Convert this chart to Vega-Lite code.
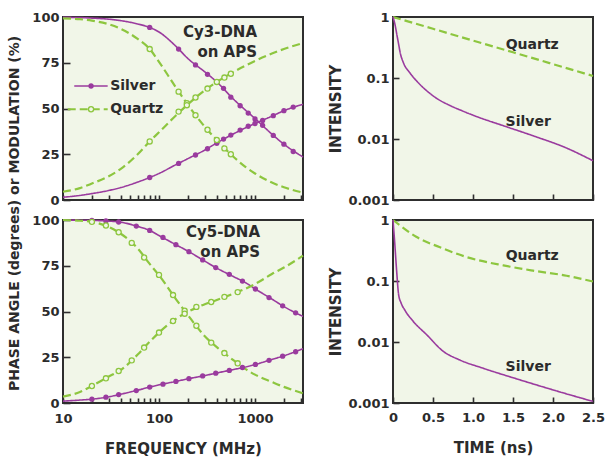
{
  "$schema": "https://vega.github.io/schema/vega-lite/v6.json",
  "background": "white",
  "padding": {"left": 7, "top": 10, "right": 0, "bottom": 0},
  "config": {
    "font": "DejaVu Sans",
    "view": {"fill": "#f1f6e8", "stroke": "#2e2e2e", "strokeWidth": 2},
    "axis": {"domain": false, "grid": false, "tickColor": "#2e2e2e", "tickWidth": 1.6, "labelFont": "DejaVu Sans", "labelFontWeight": "bold", "labelFontSize": 13, "labelColor": "#2b2b2b", "titleFont": "DejaVu Sans", "titleFontWeight": "bold", "titleFontSize": 15, "titleColor": "#2b2b2b", "labelFlush": false, "labelOverlap": false}
  },
  "datasets": {
    "fd": [
      {"panel":"Cy3","sample":"Silver","freq":10,"mod":99.8,"phase":1.5},
      {"panel":"Cy3","sample":"Silver","freq":15,"mod":99.7,"phase":2.5},
      {"panel":"Cy3","sample":"Silver","freq":20,"mod":99.4,"phase":3.5},
      {"panel":"Cy3","sample":"Silver","freq":30,"mod":98.8,"phase":5.2},
      {"panel":"Cy3","sample":"Silver","freq":40,"mod":98,"phase":6.8},
      {"panel":"Cy3","sample":"Silver","freq":60,"mod":96.2,"phase":9.8},
      {"panel":"Cy3","sample":"Silver","freq":80,"mod":94.3,"phase":12.3},
      {"panel":"Cy3","sample":"Silver","freq":100,"mod":91.8,"phase":14.5},
      {"panel":"Cy3","sample":"Silver","freq":150,"mod":84,"phase":19.3},
      {"panel":"Cy3","sample":"Silver","freq":200,"mod":77.3,"phase":22.6},
      {"panel":"Cy3","sample":"Silver","freq":300,"mod":70,"phase":27.3},
      {"panel":"Cy3","sample":"Silver","freq":400,"mod":64.5,"phase":31.2},
      {"panel":"Cy3","sample":"Silver","freq":600,"mod":55,"phase":36.2},
      {"panel":"Cy3","sample":"Silver","freq":800,"mod":49,"phase":39.5},
      {"panel":"Cy3","sample":"Silver","freq":1000,"mod":44.5,"phase":41.8},
      {"panel":"Cy3","sample":"Silver","freq":1500,"mod":36,"phase":45.8},
      {"panel":"Cy3","sample":"Silver","freq":2000,"mod":30.5,"phase":48.8},
      {"panel":"Cy3","sample":"Silver","freq":3162,"mod":23.5,"phase":52.3},
      {"panel":"Cy3","sample":"Quartz","freq":10,"mod":99.3,"phase":4.5},
      {"panel":"Cy3","sample":"Quartz","freq":15,"mod":98.8,"phase":6.5},
      {"panel":"Cy3","sample":"Quartz","freq":20,"mod":98,"phase":9},
      {"panel":"Cy3","sample":"Quartz","freq":30,"mod":96,"phase":13},
      {"panel":"Cy3","sample":"Quartz","freq":40,"mod":93.5,"phase":17},
      {"panel":"Cy3","sample":"Quartz","freq":60,"mod":88,"phase":25},
      {"panel":"Cy3","sample":"Quartz","freq":80,"mod":82.5,"phase":32},
      {"panel":"Cy3","sample":"Quartz","freq":100,"mod":75.5,"phase":37},
      {"panel":"Cy3","sample":"Quartz","freq":150,"mod":61.5,"phase":46.2},
      {"panel":"Cy3","sample":"Quartz","freq":200,"mod":52,"phase":52.3},
      {"panel":"Cy3","sample":"Quartz","freq":300,"mod":40,"phase":60},
      {"panel":"Cy3","sample":"Quartz","freq":400,"mod":32.8,"phase":64.5},
      {"panel":"Cy3","sample":"Quartz","freq":600,"mod":23.5,"phase":70},
      {"panel":"Cy3","sample":"Quartz","freq":800,"mod":18,"phase":73.5},
      {"panel":"Cy3","sample":"Quartz","freq":1000,"mod":14.5,"phase":76},
      {"panel":"Cy3","sample":"Quartz","freq":1500,"mod":9.5,"phase":80},
      {"panel":"Cy3","sample":"Quartz","freq":2000,"mod":7,"phase":82.5},
      {"panel":"Cy3","sample":"Quartz","freq":3162,"mod":4,"phase":85.7},
      {"panel":"Cy5","sample":"Silver","freq":10,"mod":100,"phase":1},
      {"panel":"Cy5","sample":"Silver","freq":15,"mod":99.9,"phase":1.6},
      {"panel":"Cy5","sample":"Silver","freq":20,"mod":99.8,"phase":2.1},
      {"panel":"Cy5","sample":"Silver","freq":30,"mod":99.4,"phase":3.4},
      {"panel":"Cy5","sample":"Silver","freq":40,"mod":98.8,"phase":4.8},
      {"panel":"Cy5","sample":"Silver","freq":60,"mod":96.5,"phase":7},
      {"panel":"Cy5","sample":"Silver","freq":80,"mod":94.3,"phase":8.7},
      {"panel":"Cy5","sample":"Silver","freq":100,"mod":91.5,"phase":9.9},
      {"panel":"Cy5","sample":"Silver","freq":150,"mod":86.5,"phase":11.8},
      {"panel":"Cy5","sample":"Silver","freq":200,"mod":83,"phase":13.2},
      {"panel":"Cy5","sample":"Silver","freq":300,"mod":77.5,"phase":15},
      {"panel":"Cy5","sample":"Silver","freq":400,"mod":73.7,"phase":16.4},
      {"panel":"Cy5","sample":"Silver","freq":600,"mod":69,"phase":18.3},
      {"panel":"Cy5","sample":"Silver","freq":800,"mod":65.7,"phase":19.7},
      {"panel":"Cy5","sample":"Silver","freq":1000,"mod":62.4,"phase":21},
      {"panel":"Cy5","sample":"Silver","freq":1500,"mod":56.8,"phase":23.8},
      {"panel":"Cy5","sample":"Silver","freq":2000,"mod":52.7,"phase":25.8},
      {"panel":"Cy5","sample":"Silver","freq":3162,"mod":47.3,"phase":29.7},
      {"panel":"Cy5","sample":"Quartz","freq":10,"mod":100,"phase":3.5},
      {"panel":"Cy5","sample":"Quartz","freq":15,"mod":99.6,"phase":6},
      {"panel":"Cy5","sample":"Quartz","freq":20,"mod":99,"phase":9.3},
      {"panel":"Cy5","sample":"Quartz","freq":30,"mod":96.2,"phase":14.5},
      {"panel":"Cy5","sample":"Quartz","freq":40,"mod":92.5,"phase":18},
      {"panel":"Cy5","sample":"Quartz","freq":60,"mod":84.5,"phase":26.5},
      {"panel":"Cy5","sample":"Quartz","freq":80,"mod":76,"phase":33.5},
      {"panel":"Cy5","sample":"Quartz","freq":100,"mod":69.8,"phase":38.5},
      {"panel":"Cy5","sample":"Quartz","freq":150,"mod":56.8,"phase":46},
      {"panel":"Cy5","sample":"Quartz","freq":200,"mod":48,"phase":49.8},
      {"panel":"Cy5","sample":"Quartz","freq":300,"mod":36.5,"phase":54},
      {"panel":"Cy5","sample":"Quartz","freq":400,"mod":30.5,"phase":56.3},
      {"panel":"Cy5","sample":"Quartz","freq":600,"mod":23.3,"phase":59.8},
      {"panel":"Cy5","sample":"Quartz","freq":800,"mod":18.5,"phase":62.5},
      {"panel":"Cy5","sample":"Quartz","freq":1000,"mod":15.5,"phase":65},
      {"panel":"Cy5","sample":"Quartz","freq":1500,"mod":11.5,"phase":70.5},
      {"panel":"Cy5","sample":"Quartz","freq":2000,"mod":8.8,"phase":74},
      {"panel":"Cy5","sample":"Quartz","freq":3162,"mod":5.3,"phase":80.5}
    ],
    "fdpts": [
      {"panel":"Cy3","sample":"Silver","freq":80,"mod":94.3,"phase":12.3},
      {"panel":"Cy3","sample":"Silver","freq":160,"mod":82.5,"phase":20},
      {"panel":"Cy3","sample":"Silver","freq":240,"mod":73.8,"phase":24.6},
      {"panel":"Cy3","sample":"Silver","freq":320,"mod":68.7,"phase":28},
      {"panel":"Cy3","sample":"Silver","freq":400,"mod":64.6,"phase":31},
      {"panel":"Cy3","sample":"Silver","freq":470,"mod":61,"phase":33.3},
      {"panel":"Cy3","sample":"Silver","freq":560,"mod":56.2,"phase":35.5},
      {"panel":"Cy3","sample":"Silver","freq":700,"mod":51.5,"phase":38.2},
      {"panel":"Cy3","sample":"Silver","freq":850,"mod":47.5,"phase":40.3},
      {"panel":"Cy3","sample":"Silver","freq":1000,"mod":44.3,"phase":41.8},
      {"panel":"Cy3","sample":"Silver","freq":1200,"mod":40.8,"phase":43.5},
      {"panel":"Cy3","sample":"Silver","freq":1550,"mod":35.3,"phase":46.1},
      {"panel":"Cy3","sample":"Silver","freq":2000,"mod":30.5,"phase":48.8},
      {"panel":"Cy3","sample":"Silver","freq":2500,"mod":26.5,"phase":50.8},
      {"panel":"Cy3","sample":"Quartz","freq":80,"mod":82.5,"phase":32},
      {"panel":"Cy3","sample":"Quartz","freq":160,"mod":59.2,"phase":48.3},
      {"panel":"Cy3","sample":"Quartz","freq":195,"mod":52.9,"phase":51.8},
      {"panel":"Cy3","sample":"Quartz","freq":240,"mod":46.3,"phase":56},
      {"panel":"Cy3","sample":"Quartz","freq":320,"mod":38.4,"phase":60.9},
      {"panel":"Cy3","sample":"Quartz","freq":400,"mod":32.8,"phase":64.5},
      {"panel":"Cy3","sample":"Quartz","freq":480,"mod":28.2,"phase":66.9},
      {"panel":"Cy3","sample":"Quartz","freq":560,"mod":25,"phase":69},
      {"panel":"Cy5","sample":"Silver","freq":20,"mod":99.8,"phase":2.1},
      {"panel":"Cy5","sample":"Silver","freq":28,"mod":99.5,"phase":3.2},
      {"panel":"Cy5","sample":"Silver","freq":38,"mod":98.9,"phase":4.6},
      {"panel":"Cy5","sample":"Silver","freq":58,"mod":96.7,"phase":6.8},
      {"panel":"Cy5","sample":"Silver","freq":80,"mod":94.3,"phase":8.7},
      {"panel":"Cy5","sample":"Silver","freq":110,"mod":90.5,"phase":10.3},
      {"panel":"Cy5","sample":"Silver","freq":150,"mod":86.5,"phase":11.8},
      {"panel":"Cy5","sample":"Silver","freq":205,"mod":82.7,"phase":13.3},
      {"panel":"Cy5","sample":"Silver","freq":285,"mod":78.2,"phase":14.8},
      {"panel":"Cy5","sample":"Silver","freq":390,"mod":74,"phase":16.3},
      {"panel":"Cy5","sample":"Silver","freq":540,"mod":70.3,"phase":17.8},
      {"panel":"Cy5","sample":"Silver","freq":740,"mod":66.6,"phase":19.4},
      {"panel":"Cy5","sample":"Silver","freq":1010,"mod":62.3,"phase":21.1},
      {"panel":"Cy5","sample":"Silver","freq":1400,"mod":57.6,"phase":23.3},
      {"panel":"Cy5","sample":"Silver","freq":1940,"mod":53.1,"phase":25.6},
      {"panel":"Cy5","sample":"Silver","freq":2650,"mod":49.3,"phase":28},
      {"panel":"Cy5","sample":"Quartz","freq":20,"mod":99,"phase":9.3},
      {"panel":"Cy5","sample":"Quartz","freq":28,"mod":97,"phase":13.5},
      {"panel":"Cy5","sample":"Quartz","freq":38,"mod":93.3,"phase":17.5},
      {"panel":"Cy5","sample":"Quartz","freq":52,"mod":87.5,"phase":23.3},
      {"panel":"Cy5","sample":"Quartz","freq":70,"mod":79.5,"phase":30.3},
      {"panel":"Cy5","sample":"Quartz","freq":100,"mod":70,"phase":38.5},
      {"panel":"Cy5","sample":"Quartz","freq":140,"mod":59,"phase":44.8},
      {"panel":"Cy5","sample":"Quartz","freq":185,"mod":50.4,"phase":48.8},
      {"panel":"Cy5","sample":"Quartz","freq":245,"mod":42.2,"phase":52.5},
      {"panel":"Cy5","sample":"Quartz","freq":350,"mod":33,"phase":55.2},
      {"panel":"Cy5","sample":"Quartz","freq":480,"mod":27.3,"phase":58},
      {"panel":"Cy5","sample":"Quartz","freq":660,"mod":21.7,"phase":60.6}
    ],
    "fdlabels": [
      {"panel":"Cy3","freq":1050,"value":91.8,"label":"Cy3-DNA"},
      {"panel":"Cy3","freq":1050,"value":80.9,"label":"on APS"},
      {"panel":"Cy5","freq":1127,"value":93.4,"label":"Cy5-DNA"},
      {"panel":"Cy5","freq":1127,"value":82.4,"label":"on APS"}
    ],
    "legline": [
      {"sample":"Silver","freq":13.1,"value":62.3},
      {"sample":"Silver","freq":29.2,"value":62.3},
      {"sample":"Quartz","freq":11.2,"value":49.6},
      {"sample":"Quartz","freq":29.2,"value":49.6}
    ],
    "legpts": [
      {"sample":"Silver","freq":19.6,"value":62.3},
      {"sample":"Quartz","freq":19.6,"value":49.6}
    ],
    "legtext": [
      {"freq":31,"value":62.3,"label":"Silver"},
      {"freq":31,"value":49.6,"label":"Quartz"}
    ],
    "td": [
      {"panel":"Cy3","sample":"Quartz","t":0,"I":1},
      {"panel":"Cy3","sample":"Quartz","t":0.5,"I":0.641},
      {"panel":"Cy3","sample":"Quartz","t":1,"I":0.411},
      {"panel":"Cy3","sample":"Quartz","t":1.5,"I":0.264},
      {"panel":"Cy3","sample":"Quartz","t":2,"I":0.169},
      {"panel":"Cy3","sample":"Quartz","t":2.5,"I":0.108},
      {"panel":"Cy3","sample":"Silver","t":0,"I":1},
      {"panel":"Cy3","sample":"Silver","t":0.025,"I":0.75},
      {"panel":"Cy3","sample":"Silver","t":0.05,"I":0.5},
      {"panel":"Cy3","sample":"Silver","t":0.07,"I":0.36},
      {"panel":"Cy3","sample":"Silver","t":0.09,"I":0.26},
      {"panel":"Cy3","sample":"Silver","t":0.13,"I":0.178},
      {"panel":"Cy3","sample":"Silver","t":0.21,"I":0.122},
      {"panel":"Cy3","sample":"Silver","t":0.3,"I":0.088},
      {"panel":"Cy3","sample":"Silver","t":0.42,"I":0.062},
      {"panel":"Cy3","sample":"Silver","t":0.55,"I":0.046},
      {"panel":"Cy3","sample":"Silver","t":0.71,"I":0.0355},
      {"panel":"Cy3","sample":"Silver","t":0.85,"I":0.0295},
      {"panel":"Cy3","sample":"Silver","t":1.05,"I":0.0232},
      {"panel":"Cy3","sample":"Silver","t":1.38,"I":0.0165},
      {"panel":"Cy3","sample":"Silver","t":1.75,"I":0.0113},
      {"panel":"Cy3","sample":"Silver","t":2.17,"I":0.0071},
      {"panel":"Cy3","sample":"Silver","t":2.5,"I":0.0044},
      {"panel":"Cy5","sample":"Quartz","t":0,"I":1},
      {"panel":"Cy5","sample":"Quartz","t":0.08,"I":0.83},
      {"panel":"Cy5","sample":"Quartz","t":0.29,"I":0.53},
      {"panel":"Cy5","sample":"Quartz","t":0.58,"I":0.36},
      {"panel":"Cy5","sample":"Quartz","t":0.92,"I":0.247},
      {"panel":"Cy5","sample":"Quartz","t":1.38,"I":0.18},
      {"panel":"Cy5","sample":"Quartz","t":1.75,"I":0.148},
      {"panel":"Cy5","sample":"Quartz","t":2.17,"I":0.122},
      {"panel":"Cy5","sample":"Quartz","t":2.5,"I":0.098},
      {"panel":"Cy5","sample":"Silver","t":0,"I":1},
      {"panel":"Cy5","sample":"Silver","t":0.02,"I":0.45},
      {"panel":"Cy5","sample":"Silver","t":0.045,"I":0.15},
      {"panel":"Cy5","sample":"Silver","t":0.07,"I":0.06},
      {"panel":"Cy5","sample":"Silver","t":0.1,"I":0.044},
      {"panel":"Cy5","sample":"Silver","t":0.15,"I":0.033},
      {"panel":"Cy5","sample":"Silver","t":0.25,"I":0.022},
      {"panel":"Cy5","sample":"Silver","t":0.42,"I":0.0132},
      {"panel":"Cy5","sample":"Silver","t":0.63,"I":0.007},
      {"panel":"Cy5","sample":"Silver","t":0.83,"I":0.0051},
      {"panel":"Cy5","sample":"Silver","t":1.13,"I":0.0037},
      {"panel":"Cy5","sample":"Silver","t":1.54,"I":0.0025},
      {"panel":"Cy5","sample":"Silver","t":1.96,"I":0.0017},
      {"panel":"Cy5","sample":"Silver","t":2.5,"I":0.00106}
    ],
    "tdlabels": [
      {"panel":"Cy3","t":1.74,"I":0.35,"label":"Quartz"},
      {"panel":"Cy3","t":1.69,"I":0.0191,"label":"Silver"},
      {"panel":"Cy5","t":1.74,"I":0.255,"label":"Quartz"},
      {"panel":"Cy5","t":1.69,"I":0.0039,"label":"Silver"}
    ]
  },
  "spacing": 18,
  "hconcat": [
    {
      "title": {"text": "PHASE  ANGLE (degrees) or  MODULATION (%)", "orient": "left", "anchor": "middle", "font": "DejaVu Sans", "fontSize": 14, "fontWeight": "bold", "color": "#2b2b2b", "offset": 9, "dx": 20},
      "bounds": "flush",
      "spacing": 20,
      "vconcat": [
        {
          "width": 240, "height": 183,
          "layer": [
            {
              "data": {"name": "fd"},
              "transform": [{"filter": "datum.panel === 'Cy3'"}, {"fold": ["mod", "phase"], "as": ["kind", "value"]}],
              "mark": {"type": "line", "interpolate": "monotone"},
              "encoding": {
                "x": {"field": "freq", "type": "quantitative", "scale": {"type": "log", "domain": [10, 3162], "nice": false}, "axis": {"values": [10,20,30,40,50,60,70,80,90,100,200,300,400,500,600,700,800,900,1000,2000,3000], "tickCount": 100, "labels": false, "tickSize": -5, "title": null}},
                "y": {"field": "value", "type": "quantitative", "scale": {"domain": [0, 100], "nice": false}, "axis": {"values": [0, 25, 50, 75, 100], "tickCount": 100, "tickSize": -7, "labelPadding": 11, "labelOverlap": false, "title": null}},
                "color": {"field": "sample", "type": "nominal", "scale": {"domain": ["Silver", "Quartz"], "range": ["#9a3b9e", "#8dc63f"]}, "legend": null},
                "strokeDash": {"field": "sample", "type": "nominal", "scale": {"domain": ["Silver", "Quartz"], "range": [[1, 0], [8, 4]]}, "legend": null},
                "strokeWidth": {"field": "sample", "type": "nominal", "scale": {"domain": ["Silver", "Quartz"], "range": [1.6, 2.2]}, "legend": null},
                "detail": {"field": "kind"}
              }
            },
            {
              "data": {"name": "legline"},
              "mark": {"type": "line"},
              "encoding": {
                "x": {"field": "freq", "type": "quantitative"},
                "y": {"field": "value", "type": "quantitative"},
                "color": {"field": "sample", "type": "nominal", "legend": null},
                "strokeDash": {"field": "sample", "type": "nominal", "legend": null},
                "strokeWidth": {"field": "sample", "type": "nominal", "legend": null}
              }
            },
            {
              "data": {"name": "fdpts"},
              "transform": [{"filter": "datum.panel === 'Cy3' && datum.sample === 'Silver'"}, {"fold": ["mod", "phase"], "as": ["kind", "value"]}],
              "mark": {"type": "circle", "size": 28, "color": "#9a3b9e", "opacity": 1},
              "encoding": {"x": {"field": "freq", "type": "quantitative"}, "y": {"field": "value", "type": "quantitative"}}
            },
            {
              "data": {"name": "fdpts"},
              "transform": [{"filter": "datum.panel === 'Cy3' && datum.sample === 'Quartz'"}, {"fold": ["mod", "phase"], "as": ["kind", "value"]}],
              "mark": {"type": "point", "shape": "circle", "size": 26, "filled": false, "fill": "#f1f6e8", "fillOpacity": 1, "stroke": "#8dc63f", "strokeWidth": 1.3, "opacity": 1},
              "encoding": {"x": {"field": "freq", "type": "quantitative"}, "y": {"field": "value", "type": "quantitative"}}
            },
            {
              "data": {"name": "legpts"},
              "transform": [{"filter": "datum.sample === 'Silver'"}],
              "mark": {"type": "circle", "size": 28, "color": "#9a3b9e", "opacity": 1},
              "encoding": {"x": {"field": "freq", "type": "quantitative"}, "y": {"field": "value", "type": "quantitative"}}
            },
            {
              "data": {"name": "legpts"},
              "transform": [{"filter": "datum.sample === 'Quartz'"}],
              "mark": {"type": "point", "shape": "circle", "size": 26, "filled": false, "fill": "#f1f6e8", "fillOpacity": 1, "stroke": "#8dc63f", "strokeWidth": 1.3, "opacity": 1},
              "encoding": {"x": {"field": "freq", "type": "quantitative"}, "y": {"field": "value", "type": "quantitative"}}
            },
            {
              "data": {"name": "legtext"},
              "mark": {"type": "text", "align": "left", "baseline": "middle", "font": "DejaVu Sans", "fontWeight": "bold", "fontSize": 14, "color": "#2b2b2b"},
              "encoding": {"x": {"field": "freq", "type": "quantitative"}, "y": {"field": "value", "type": "quantitative"}, "text": {"field": "label"}}
            },
            {
              "data": {"name": "fdlabels"},
              "transform": [{"filter": "datum.panel === 'Cy3'"}],
              "mark": {"type": "text", "align": "right", "baseline": "middle", "font": "DejaVu Sans", "fontWeight": "bold", "fontSize": 15, "color": "#2b2b2b"},
              "encoding": {"x": {"field": "freq", "type": "quantitative"}, "y": {"field": "value", "type": "quantitative"}, "text": {"field": "label"}}
            }
          ]
        },
        {
          "width": 240, "height": 183,
          "layer": [
            {
              "data": {"name": "fd"},
              "transform": [{"filter": "datum.panel === 'Cy5'"}, {"fold": ["mod", "phase"], "as": ["kind", "value"]}],
              "mark": {"type": "line", "interpolate": "monotone"},
              "encoding": {
                "x": {"field": "freq", "type": "quantitative", "scale": {"type": "log", "domain": [10, 3162], "nice": false}, "axis": {"values": [10,20,30,40,50,60,70,80,90,100,200,300,400,500,600,700,800,900,1000,2000,3000], "tickCount": 100, "labelExpr": "indexof([10, 100, 1000], datum.value) >= 0 ? format(datum.value, 'd') : ''", "labelOverlap": false, "tickSize": -5, "labelPadding": 14, "title": "FREQUENCY (MHz)", "titlePadding": 16}},
                "y": {"field": "value", "type": "quantitative", "scale": {"domain": [0, 100], "nice": false}, "axis": {"values": [0, 25, 50, 75, 100], "tickCount": 100, "tickSize": -7, "labelPadding": 11, "labelOverlap": false, "title": null}},
                "color": {"field": "sample", "type": "nominal", "scale": {"domain": ["Silver", "Quartz"], "range": ["#9a3b9e", "#8dc63f"]}, "legend": null},
                "strokeDash": {"field": "sample", "type": "nominal", "scale": {"domain": ["Silver", "Quartz"], "range": [[1, 0], [8, 4]]}, "legend": null},
                "strokeWidth": {"field": "sample", "type": "nominal", "scale": {"domain": ["Silver", "Quartz"], "range": [1.6, 2.2]}, "legend": null},
                "detail": {"field": "kind"}
              }
            },
            {
              "data": {"name": "fdpts"},
              "transform": [{"filter": "datum.panel === 'Cy5' && datum.sample === 'Silver'"}, {"fold": ["mod", "phase"], "as": ["kind", "value"]}],
              "mark": {"type": "circle", "size": 28, "color": "#9a3b9e", "opacity": 1},
              "encoding": {"x": {"field": "freq", "type": "quantitative"}, "y": {"field": "value", "type": "quantitative"}}
            },
            {
              "data": {"name": "fdpts"},
              "transform": [{"filter": "datum.panel === 'Cy5' && datum.sample === 'Quartz'"}, {"fold": ["mod", "phase"], "as": ["kind", "value"]}],
              "mark": {"type": "point", "shape": "circle", "size": 26, "filled": false, "fill": "#f1f6e8", "fillOpacity": 1, "stroke": "#8dc63f", "strokeWidth": 1.3, "opacity": 1},
              "encoding": {"x": {"field": "freq", "type": "quantitative"}, "y": {"field": "value", "type": "quantitative"}}
            },
            {
              "data": {"name": "fdlabels"},
              "transform": [{"filter": "datum.panel === 'Cy5'"}],
              "mark": {"type": "text", "align": "right", "baseline": "middle", "font": "DejaVu Sans", "fontWeight": "bold", "fontSize": 15, "color": "#2b2b2b"},
              "encoding": {"x": {"field": "freq", "type": "quantitative"}, "y": {"field": "value", "type": "quantitative"}, "text": {"field": "label"}}
            }
          ]
        }
      ]
    },
    {
      "bounds": "flush",
      "spacing": 20,
      "vconcat": [
        {
          "width": 200, "height": 183,
          "layer": [
            {
              "data": {"name": "td"},
              "transform": [{"filter": "datum.panel === 'Cy3'"}],
              "mark": {"type": "line", "interpolate": "monotone"},
              "encoding": {
                "x": {"field": "t", "type": "quantitative", "scale": {"domain": [0, 2.5], "nice": false}, "axis": {"values": [0, 0.5, 1, 1.5, 2, 2.5], "tickCount": 100, "labels": false, "tickSize": -6, "title": null}},
                "y": {"field": "I", "type": "quantitative", "scale": {"type": "log", "domain": [0.001, 1], "nice": false}, "axis": {"values": [0.001, 0.01, 0.1, 1], "tickCount": 100, "format": "~g", "labelOverlap": false, "tickSize": -6, "labelPadding": 10, "title": "INTENSITY", "titlePadding": 4}},
                "color": {"field": "sample", "type": "nominal", "scale": {"domain": ["Silver", "Quartz"], "range": ["#9a3b9e", "#8dc63f"]}, "legend": null},
                "strokeDash": {"field": "sample", "type": "nominal", "scale": {"domain": ["Silver", "Quartz"], "range": [[1, 0], [8, 4]]}, "legend": null},
                "strokeWidth": {"field": "sample", "type": "nominal", "scale": {"domain": ["Silver", "Quartz"], "range": [1.6, 2.2]}, "legend": null}
              }
            },
            {
              "data": {"name": "tdlabels"},
              "transform": [{"filter": "datum.panel === 'Cy3'"}],
              "mark": {"type": "text", "align": "center", "baseline": "middle", "font": "DejaVu Sans", "fontWeight": "bold", "fontSize": 14, "color": "#2b2b2b"},
              "encoding": {"x": {"field": "t", "type": "quantitative"}, "y": {"field": "I", "type": "quantitative"}, "text": {"field": "label"}}
            }
          ]
        },
        {
          "width": 200, "height": 183,
          "layer": [
            {
              "data": {"name": "td"},
              "transform": [{"filter": "datum.panel === 'Cy5'"}],
              "mark": {"type": "line", "interpolate": "monotone"},
              "encoding": {
                "x": {"field": "t", "type": "quantitative", "scale": {"domain": [0, 2.5], "nice": false}, "axis": {"values": [0, 0.5, 1, 1.5, 2, 2.5], "tickCount": 100, "labelExpr": "datum.value === 0 ? '0' : format(datum.value, '.1f')", "labelOverlap": false, "tickSize": -6, "labelPadding": 14, "title": "TIME (ns)", "titlePadding": 16}},
                "y": {"field": "I", "type": "quantitative", "scale": {"type": "log", "domain": [0.001, 1], "nice": false}, "axis": {"values": [0.001, 0.01, 0.1, 1], "tickCount": 100, "format": "~g", "labelOverlap": false, "tickSize": -6, "labelPadding": 10, "title": "INTENSITY", "titlePadding": 4}},
                "color": {"field": "sample", "type": "nominal", "scale": {"domain": ["Silver", "Quartz"], "range": ["#9a3b9e", "#8dc63f"]}, "legend": null},
                "strokeDash": {"field": "sample", "type": "nominal", "scale": {"domain": ["Silver", "Quartz"], "range": [[1, 0], [8, 4]]}, "legend": null},
                "strokeWidth": {"field": "sample", "type": "nominal", "scale": {"domain": ["Silver", "Quartz"], "range": [1.6, 2.2]}, "legend": null}
              }
            },
            {
              "data": {"name": "tdlabels"},
              "transform": [{"filter": "datum.panel === 'Cy5'"}],
              "mark": {"type": "text", "align": "center", "baseline": "middle", "font": "DejaVu Sans", "fontWeight": "bold", "fontSize": 14, "color": "#2b2b2b"},
              "encoding": {"x": {"field": "t", "type": "quantitative"}, "y": {"field": "I", "type": "quantitative"}, "text": {"field": "label"}}
            }
          ]
        }
      ]
    }
  ]
}
